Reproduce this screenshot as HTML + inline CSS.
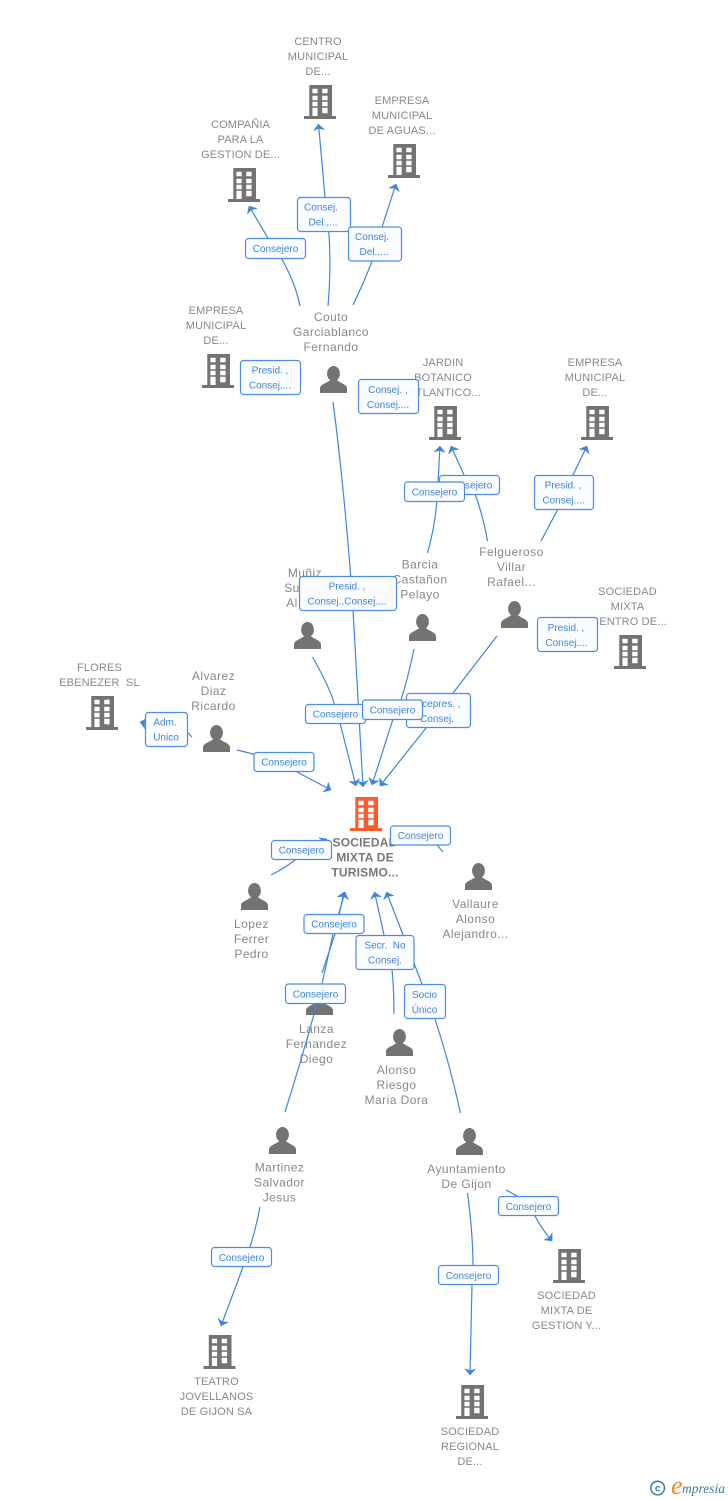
<!DOCTYPE html>
<html><head><meta charset="utf-8"><style>
html,body{margin:0;padding:0;background:#fff}
svg{display:block}
text{font-family:"Liberation Sans",Arial,sans-serif}
.n text,.n{font-size:11px;fill:#888;text-anchor:middle;letter-spacing:.15px}
.p{font-size:12px;fill:#888;text-anchor:middle;letter-spacing:.45px}
.l path{fill:none;stroke:#3d85e0;stroke-width:1.2;marker-end:url(#a)}
.b rect{fill:#fbfcff;stroke:#4a8ce6;stroke-width:1.2}
.b text{font-size:10px;fill:#3d85e0;text-anchor:middle}
</style></head><body>
<svg width="728" height="1500" viewBox="0 0 728 1500" xmlns="http://www.w3.org/2000/svg">
<defs>
<marker id="a" markerUnits="userSpaceOnUse" viewBox="-8 -7 9 14" refX="0" refY="0" markerWidth="9" markerHeight="14" orient="auto"><path d="M0 0L-6.200-5.600-4.500 0-6.200 5.600Z" fill="#3d85e0" stroke="#3d85e0" stroke-width=".4"/></marker>
<symbol id="h" width="32" height="34" viewBox="0 0 32 34"><path fill-rule="evenodd" d="M5.300 0H28V31H32V34H0V31H5.300ZM8.400 3.800V8.200H13.600V3.800ZM18.200 3.800V8.200H23.600V3.800ZM8.400 10.800V15.200H13.600V10.800ZM18.200 10.800V15.200H23.600V10.800ZM8.400 16.800V21.200H13.600V16.800ZM18.200 16.800V21.200H23.600V16.800ZM8.400 22.800V31H13.600V22.800ZM18.200 22.800V28.200H23.600V22.800Z" fill="#737373"/></symbol>
<symbol id="o" width="32" height="34" viewBox="0 0 32 34"><path fill-rule="evenodd" d="M5.300 0H28V31H32V34H0V31H5.300ZM8.400 3.800V8.200H13.600V3.800ZM18.200 3.800V8.200H23.600V3.800ZM8.400 10.800V15.200H13.600V10.800ZM18.200 10.800V15.200H23.600V10.800ZM8.400 16.800V21.200H13.600V16.800ZM18.200 16.800V21.200H23.600V16.800ZM8.400 22.800V31H13.600V22.800ZM18.200 22.800V28.200H23.600V22.800Z" fill="#ff5c2e"/></symbol>
<symbol id="u" width="27" height="27" viewBox="0 0 27 27"><ellipse cx="13.500" cy="7.700" rx="6.400" ry="7.700" fill="#737373"/><path d="M0 27V22.500C0 18.500 6 17.500 9.500 14.500H17.500C21 17.500 27 18.500 27 22.500V27Z" fill="#737373"/></symbol>
</defs>

<use href="#h" x="304" y="85"/><use href="#h" x="228" y="168"/><use href="#h" x="388" y="144"/><use href="#h" x="202" y="354"/>
<use href="#h" x="429" y="406"/><use href="#h" x="581" y="406"/><use href="#h" x="614" y="635"/><use href="#h" x="86" y="696"/>
<use href="#o" x="350" y="797"/>
<use href="#h" x="203.500" y="1335"/><use href="#h" x="456" y="1385"/><use href="#h" x="553" y="1249"/>

<use href="#u" x="320" y="366"/><use href="#u" x="294" y="622"/><use href="#u" x="203" y="725"/><use href="#u" x="409" y="614"/>
<use href="#u" x="501" y="601"/><use href="#u" x="241" y="883"/><use href="#u" x="465" y="863"/><use href="#u" x="306" y="988"/>
<use href="#u" x="386" y="1029"/><use href="#u" x="269" y="1127"/><use href="#u" x="456" y="1128"/>

<g class="n">
<text y="45"><tspan x="318">CENTRO</tspan><tspan x="318" dy="15">MUNICIPAL</tspan><tspan x="318" dy="15">DE...</tspan></text>
<text y="128"><tspan x="240.500">COMPAÑIA</tspan><tspan x="240.500" dy="15">PARA LA</tspan><tspan x="240.500" dy="15">GESTION DE...</tspan></text>
<text y="104"><tspan x="402">EMPRESA</tspan><tspan x="402" dy="15">MUNICIPAL</tspan><tspan x="402" dy="15">DE AGUAS...</tspan></text>
<text y="314"><tspan x="216">EMPRESA</tspan><tspan x="216" dy="15">MUNICIPAL</tspan><tspan x="216" dy="15">DE...</tspan></text>
<text y="366"><tspan x="443">JARDIN</tspan><tspan x="443" dy="15">BOTANICO</tspan><tspan x="445" dy="15">ATLANTICO...</tspan></text>
<text y="366"><tspan x="595">EMPRESA</tspan><tspan x="595" dy="15">MUNICIPAL</tspan><tspan x="595" dy="15">DE...</tspan></text>
<text y="595"><tspan x="627.500">SOCIEDAD</tspan><tspan x="627.500" dy="15">MIXTA</tspan><tspan x="629" dy="15">CENTRO DE...</tspan></text>
<text y="671"><tspan x="99.500">FLORES</tspan><tspan x="99.500" dy="15">EBENEZER&#160; SL</tspan></text>
<text y="1385"><tspan x="216.500">TEATRO</tspan><tspan x="216.500" dy="15">JOVELLANOS</tspan><tspan x="216.500" dy="15">DE GIJON SA</tspan></text>
<text y="1435"><tspan x="470">SOCIEDAD</tspan><tspan x="470" dy="15">REGIONAL</tspan><tspan x="470" dy="15">DE...</tspan></text>
<text y="1299"><tspan x="566.500">SOCIEDAD</tspan><tspan x="566.500" dy="15">MIXTA DE</tspan><tspan x="566.500" dy="15">GESTION Y...</tspan></text>
</g>
<text y="846.500" style="font-size:12px;font-weight:bold;fill:#777;text-anchor:middle;letter-spacing:.2px"><tspan x="365">SOCIEDAD</tspan><tspan x="365" dy="15">MIXTA DE</tspan><tspan x="365" dy="15">TURISMO...</tspan></text>
<g class="pp">
<text class="p" y="321"><tspan x="331">Couto</tspan><tspan x="331" dy="15">Garciablanco</tspan><tspan x="331" dy="15">Fernando</tspan></text>
<text class="p" y="556"><tspan x="511.500">Felgueroso</tspan><tspan x="511.500" dy="15">Villar</tspan><tspan x="511.500" dy="15">Rafael...</tspan></text>
<text class="p" y="568.500"><tspan x="420">Barcia</tspan><tspan x="420" dy="15">Castañon</tspan><tspan x="420" dy="15">Pelayo</tspan></text>
<text class="p" y="577" x="305">Muñiz</text>
<text class="p" y="592" x="292">Su</text>
<text class="p" y="607" x="292">Al</text>
<text class="p" y="680"><tspan x="213.500">Alvarez</tspan><tspan x="213.500" dy="15">Diaz</tspan><tspan x="213.500" dy="15">Ricardo</tspan></text>
<text class="p" y="928"><tspan x="251.500">Lopez</tspan><tspan x="251.500" dy="15">Ferrer</tspan><tspan x="251.500" dy="15">Pedro</tspan></text>
<text class="p" y="908"><tspan x="475.500">Vallaure</tspan><tspan x="475.500" dy="15">Alonso</tspan><tspan x="475.500" dy="15">Alejandro...</tspan></text>
<text class="p" y="1033"><tspan x="316.500">Lanza</tspan><tspan x="316.500" dy="15">Fernandez</tspan><tspan x="316.500" dy="15">Diego</tspan></text>
<text class="p" y="1074"><tspan x="396.500">Alonso</tspan><tspan x="396.500" dy="15">Riesgo</tspan><tspan x="396.500" dy="15">Maria Dora</tspan></text>
<text class="p" y="1171.500"><tspan x="279.500">Martinez</tspan><tspan x="279.500" dy="15">Salvador</tspan><tspan x="279.500" dy="15">Jesus</tspan></text>
<text class="p" y="1173"><tspan x="466.500">Ayuntamiento</tspan><tspan x="466.500" dy="15">De Gijon</tspan></text>
</g>

<g class="l">
<path d="M300 306Q293 272 268 238L249 206"/>
<path d="M328 306Q333 250 325 197L318.500 124"/>
<path d="M353 305Q365 280 372 261L382 227L396 184"/>
<path d="M333 402C342 470 350 560 353 610L363 787"/>
<path d="M312.500 657Q330 688 334 703L340 723L356 786"/>
<path d="M414 649Q408 678 401 700L393 719L372 785"/>
<path d="M497 636L453 693L426 728L380 786"/>
<path d="M427.500 553Q437 520 438 482L440 446"/>
<path d="M487.500 541Q483 515 475 494L464 475L451 446"/>
<path d="M541 541L558 509L573 475L587 446"/>
<path d="M192 737L188 733L140 722"/>
<path d="M237 750L253 754L297 772L331 790"/>
<path d="M271 875Q285 868 295 860L327 839"/>
<path d="M443 852L437 845L408 832"/>
<path d="M322 973L335 934L344 892"/>
<path d="M285 1112Q303 1055 317 1003L322 984L333 934L345 892"/>
<path d="M394 1014Q394 990 392 969L384 935L374.500 892"/>
<path d="M460.500 1113Q450 1065 435 1019L422 984L386.500 892"/>
<path d="M260 1207Q256 1228 250 1247L243 1267L221 1326"/>
<path d="M467.500 1193Q473 1235 473 1265L472 1285L470 1375"/>
<path d="M506 1190L517 1196L535 1216Q541 1228 552 1241"/>
</g>

<g class="b">
<rect x="245.500" y="238.500" width="60" height="20" rx="3"/><text x="275.500" y="252">Consejero</text>
<rect x="297.500" y="197.500" width="53" height="34" rx="3"/><text y="210.500"><tspan x="321">Consej.</tspan><tspan x="323" dy="15">Del.,...</tspan></text>
<rect x="348.500" y="227" width="53" height="34" rx="3"/><text y="240"><tspan x="372">Consej.</tspan><tspan x="374" dy="15">Del.,...</tspan></text>
<rect x="240.500" y="360.500" width="60" height="34" rx="3"/><text y="373.500"><tspan x="270">Presid. ,</tspan><tspan x="270" dy="15">Consej....</tspan></text>
<rect x="358.500" y="379.500" width="60" height="34" rx="3"/><text y="393"><tspan x="388">Consej. ,</tspan><tspan x="388" dy="15">Consej....</tspan></text>
<rect x="439.500" y="475.500" width="60" height="19" rx="3"/><text x="469.500" y="488.500">Consejero</text>
<rect x="404.500" y="482" width="60" height="19.500" rx="3"/><text x="434.500" y="495.500">Consejero</text>
<rect x="534.500" y="475.500" width="59" height="34" rx="3"/><text y="488.500"><tspan x="563">Presid. ,</tspan><tspan x="563.500" dy="15">Consej....</tspan></text>
<rect x="299.500" y="576.500" width="97" height="34" rx="3"/><text y="589.500"><tspan x="347">Presid. ,</tspan><tspan x="347" dy="15">Consej.,Consej....</tspan></text>
<rect x="537.500" y="617.500" width="60" height="34" rx="3"/><text y="631"><tspan x="566">Presid. ,</tspan><tspan x="566.500" dy="15">Consej....</tspan></text>
<rect x="406.500" y="693.500" width="64" height="34" rx="3"/><text y="707"><tspan x="437">Vicepres. ,</tspan><tspan x="437" dy="15">Consej.</tspan></text>
<rect x="305.500" y="704.500" width="60" height="19" rx="3"/><text x="335.500" y="717.500">Consejero</text>
<rect x="362.500" y="700" width="60" height="19.500" rx="3"/><text x="392.500" y="713.500">Consejero</text>
<rect x="145.500" y="712.500" width="42" height="34" rx="3"/><text y="725.500"><tspan x="165">Adm.</tspan><tspan x="166" dy="15">Unico</tspan></text>
<rect x="254" y="752.500" width="60" height="19" rx="3"/><text x="284" y="765.500">Consejero</text>
<rect x="271.500" y="840.500" width="60" height="19" rx="3"/><text x="301.500" y="853.500">Consejero</text>
<rect x="390.500" y="826" width="60" height="19" rx="3"/><text x="420.500" y="839">Consejero</text>
<rect x="304" y="914.500" width="60" height="19" rx="3"/><text x="334" y="927.500">Consejero</text>
<rect x="356" y="935.500" width="58" height="34" rx="3"/><text y="948.500"><tspan x="385">Secr.&#160; No</tspan><tspan x="385" dy="15">Consej.</tspan></text>
<rect x="285.500" y="984" width="60" height="19.500" rx="3"/><text x="315.500" y="997.500">Consejero</text>
<rect x="404.500" y="984.500" width="41" height="34" rx="3"/><text y="998"><tspan x="424.500">Socio</tspan><tspan x="424.500" dy="15">Único</tspan></text>
<rect x="211.500" y="1247.500" width="60" height="19" rx="3"/><text x="241.500" y="1261">Consejero</text>
<rect x="438.500" y="1265.500" width="60" height="19" rx="3"/><text x="468.500" y="1279">Consejero</text>
<rect x="498.500" y="1196.500" width="60" height="19" rx="3"/><text x="528.500" y="1210">Consejero</text>
</g>

<circle cx="657.700" cy="1488" r="6.800" fill="none" stroke="#3b7f9f" stroke-width="1.500"/>
<text x="657.700" y="1491.500" style="font-size:10px;font-weight:bold;fill:#3b7f9f;text-anchor:middle">c</text>
<text x="671" y="1494" style="font-family:'Liberation Serif',serif;font-style:italic;font-size:26px;fill:#f08a24">e</text>
<text x="682" y="1493" style="font-family:'Liberation Serif',serif;font-style:italic;font-size:13.500px;fill:#3b7f9f">mpresia</text>
</svg>
</body></html>
